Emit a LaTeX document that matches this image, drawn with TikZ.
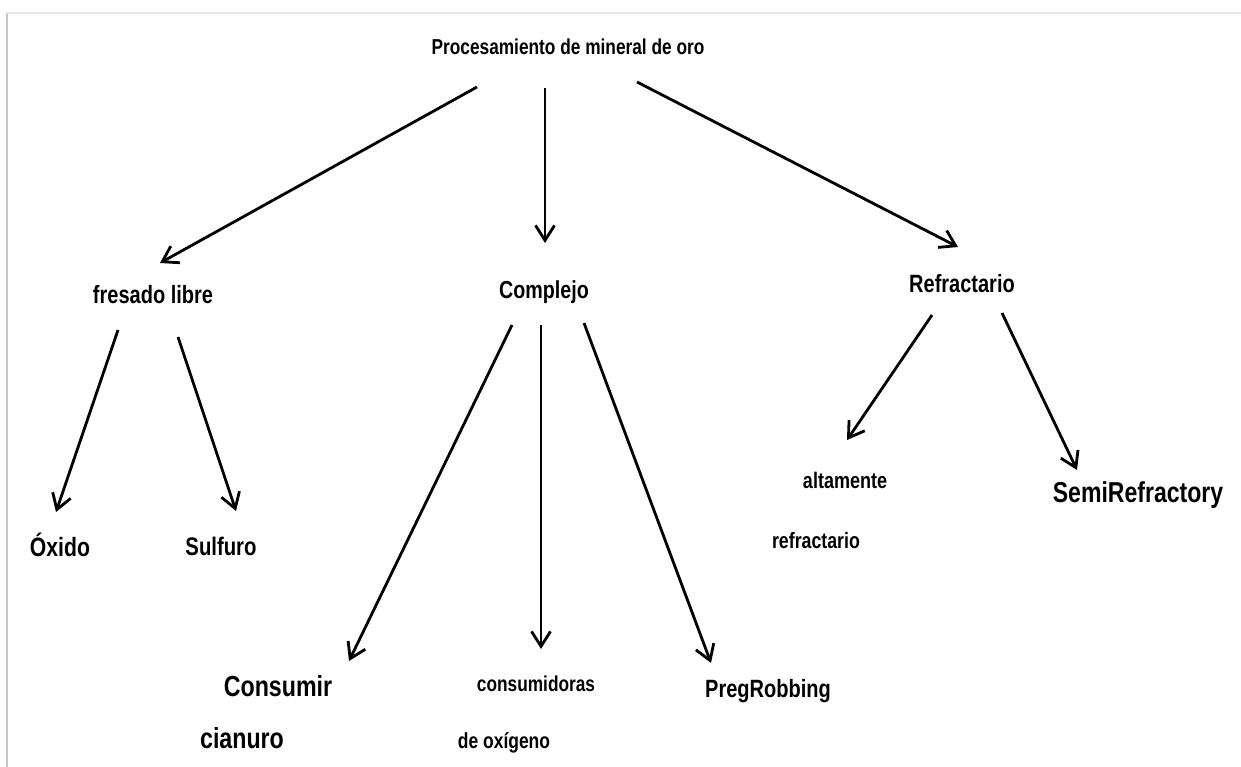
\documentclass[tikz,border=0pt]{standalone}
\usepackage{fontspec}
\setmainfont{Liberation Sans}[FakeStretch=0.8]
\usetikzlibrary{arrows.meta}

\newcommand{\fsz}[1]{\fontsize{#1}{#1}\selectfont\bfseries}

\tikzset{
  lbl/.style={inner sep=0pt,font=\fsz{#1}},
  arr/.style={-{Straight Barb[length=15pt,width=19pt]},line width=2.8pt}
}

\begin{document}
\begin{tikzpicture}[x=1pt,y=-1pt]
\useasboundingbox (0,0) rectangle (1241,767);
\draw[gray!45,line width=2.5pt] (7,13) -- (7,767);
\draw[gray!18,line width=1.5pt] (7,13) -- (1241,13);

\node[lbl=21.6] at (568,47) (root) {Procesamiento de mineral de oro};

\node[lbl=25] at (153,295) (fresado) {fresado libre};
\node[lbl=24.6] at (544,292) (complejo) {Complejo};
\node[lbl=25] at (962,284) (refract) {Refractario};

\node[lbl=26.5] at (60,545) (oxido) {Óxido};
\node[lbl=25.4] at (221,546) (sulfuro) {Sulfuro};
\node[lbl=29] at (278,686) (consumir) {Consumir};
\node[lbl=29] at (242,738) (cianuro) {cianuro};
\node[lbl=21.6] at (536,684) (consumidoras) {consumidoras};
\node[lbl=21.8] at (504,743) (oxigeno) {de oxígeno};
\node[lbl=25] at (768,691) (pregrob) {PregRobbing};
\node[lbl=22.5] at (845,480) (altamente) {altamente};
\node[lbl=22.2] at (816,541) (refract2) {refractario};
\node[lbl=28.8] at (1138,495) (semi) {SemiRefractory};

\draw[arr] ([shift={(-91,40)}]root.center) -- ([shift={(7,-32)}]fresado.center);
\draw[arr] ([shift={(-23,41)}]root.center) -- ([shift={(1,-49)}]complejo.center);
\draw[arr] ([shift={(69,35)}]root.center) -- ([shift={(-4,-37)}]refract.center);

\draw[arr] ([shift={(-35,35)}]fresado.center) -- ([shift={(-4,-33)}]oxido.center);
\draw[arr] ([shift={(25,42)}]fresado.center) -- ([shift={(15,-35)}]sulfuro.center);

\draw[arr] ([shift={(-32,33)}]complejo.center) -- ([shift={(71,-25)}]consumir.center);
\draw[arr] ([shift={(-3,33)}]complejo.center) -- ([shift={(5,-35)}]consumidoras.center);
\draw[arr] ([shift={(40,31)}]complejo.center) -- ([shift={(-57,-28)}]pregrob.center);

\draw[arr] ([shift={(-30,31)}]refract.center) -- ([shift={(2,-40)}]altamente.center);
\draw[arr] ([shift={(40,29)}]refract.center) -- ([shift={(-61,-25)}]semi.center);

\end{tikzpicture}
\end{document}
